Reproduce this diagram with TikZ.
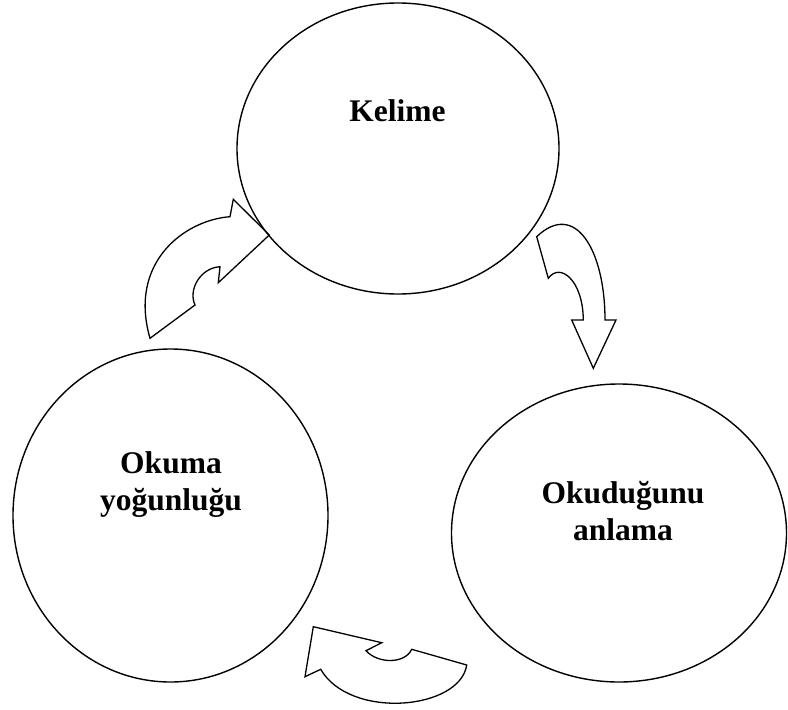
\documentclass[tikz,border=0pt]{standalone}
\usepackage{fontspec}
\setmainfont{Liberation Serif}
\usetikzlibrary{shapes.geometric}
\begin{document}
\begin{tikzpicture}[x=1pt,y=-1pt,
  bubble/.style={draw=black,line width=1.4pt,ellipse,inner sep=0pt,outer sep=0pt},
  lbl/.style={font=\fontsize{31.5}{38}\selectfont\bfseries,anchor=base,inner sep=0pt},
  curvearrow/.style={draw=black,line width=1.3pt,line join=miter}]
\useasboundingbox (0,0) rectangle (788,710);
% circles
\node[bubble,minimum width=322pt,minimum height=291pt] (kel) at (398,148.5) {};
\node[bubble,minimum width=315pt,minimum height=333pt] (oku) at (170.5,515.5) {};
\node[bubble,minimum width=335pt,minimum height=298pt] (anl) at (619,533) {};
% labels
\node[lbl] (kelt) at (397.5,121) {Kelime};
\node[lbl] (okut1) at (171,473) {Okuma};
\node[lbl] (okut2) at (171,510) {yoğunluğu};
\node[lbl] (anlt1) at (623,503) {Okuduğunu};
\node[lbl] (anlt2) at (623,540) {anlama};
% curved arrow: Okuma -> Kelime
\draw[curvearrow] (230,216.7) .. controls (185,220) and (128,262) .. (150,338.3)
  -- (195,305) .. controls (188,290) and (200,268) .. (220,266.7)
  -- (218.3,282.7) -- (269.3,235) -- (233.3,199.3) -- cycle;
% curved arrow: Kelime -> Okuduğunu anlama
\draw[curvearrow] (536.7,236.7) -- (548.3,278.3)
  .. controls (560,262) and (583,280) .. (583.3,320)
  -- (571.7,320) -- (593.3,368.3) -- (616,320) -- (605,320)
  .. controls (605,250) and (575,200) .. cycle;
% curved arrow: Okuduğunu anlama -> Okuma
\draw[curvearrow] (466.7,665) .. controls (460,710) and (350,720) .. (320.7,669.3)
  -- (305,676.7) -- (313.3,626.7) -- (381.7,642.7) -- (366,650.7)
  .. controls (378,664) and (405,664) .. (411.7,649.3) -- cycle;
\end{tikzpicture}
\end{document}
